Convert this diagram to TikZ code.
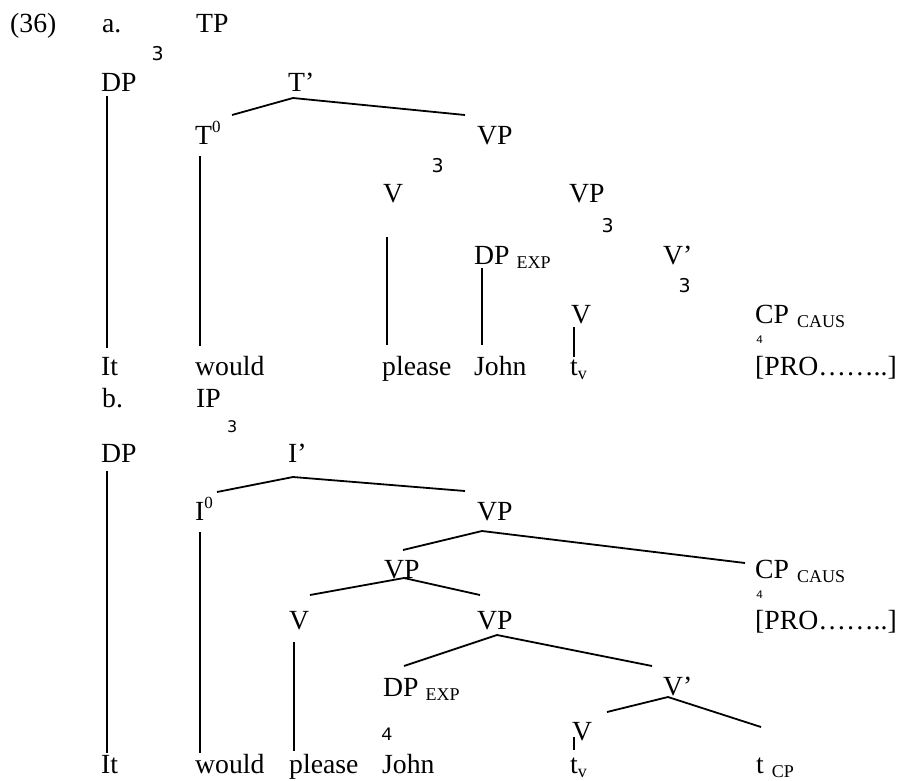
\documentclass[tikz,border=0pt]{standalone}
\usepackage{fontspec}
\setmainfont{Liberation Serif}
\newfontfamily\marksans{DejaVu Sans}
\newfontfamily\markmono{Liberation Mono}
\newcommand{\catsize}{\fontsize{27.7}{32}\selectfont}
\newcommand{\subsize}{\fontsize{18}{20}\selectfont}
\newcommand{\supsize}{\fontsize{17}{19}\selectfont}
\newcommand{\subtxt}[1]{\raisebox{-4pt}{\subsize #1}}
\newcommand{\suptxt}[1]{\raisebox{12pt}{\supsize #1}}

\begin{document}
\begin{tikzpicture}[x=1pt,y=-1pt,
  lab/.style={inner sep=0pt, anchor=base west, font=\catsize},
  tri/.style={inner sep=0pt, anchor=base west, font=\marksans\fontsize{19}{20}\selectfont},
  roof/.style={inner sep=0pt, anchor=base west, font=\markmono\fontsize{11.5}{13}\selectfont},
  branch/.style={line width=1.8pt}]
\useasboundingbox (0,0) rectangle (900,780);

% ---------- (36a) ----------
\node[lab] (ex)    at (10,32)  {(36)};
\node[lab] (la)    at (102,32) {a.};
\node[lab] (aTP)   at (196,32) {TP};
\node[tri] (aTPm)  at (151.5,60) {3};
\node[lab] (aDP)   at (101,91) {DP};
\node[lab] (aTb)   at (288,91) {T’};
\node[lab] (aT0)   at (195,144) {T\suptxt{0}};
\node[lab] (aVP1)  at (477,144) {VP};
\node[tri] (aVP1m) at (431.5,172) {3};
\node[lab] (aV)    at (383,202) {V};
\node[lab] (aVP2)  at (569,202) {VP};
\node[tri] (aVP2m) at (601.5,232) {3};
\node[lab] (aDPe)  at (474,264) {DP\hspace{7pt}\subtxt{EXP}};
\node[lab] (aVb)   at (663,264) {V’};
\node[tri] (aVbm)  at (678.5,292) {3};
\node[lab] (aVt)   at (571,323) {V};
\node[lab] (aCP)   at (755,323) {CP\hspace{8pt}\subtxt{CAUS}};
\node[roof] (aCPm) at (756,343) {4};
\node[lab] (aIt)   at (101,375) {It};
\node[lab] (aWould) at (195,375) {would};
\node[lab] (aPlease) at (382,375) {please};
\node[lab] (aJohn) at (474,375) {John};
\node[lab] (atv)   at (570,375) {t\subtxt{v}};
\node[lab] (aPRO)  at (755,375) {[PRO……..]};

% branches of T'
\coordinate (aTb-l) at (232,115);
\coordinate (aTb-top) at (293,98);
\coordinate (aTb-r) at (465,115);
\draw[branch] (aTb-l) -- (aTb-top) -- (aTb-r);
% unary lines
\coordinate (aDP-s) at (107,96);   \coordinate (aIt-n) at (107,348);
\coordinate (aT0-s) at (200,156);  \coordinate (aWould-n) at (200,346);
\coordinate (aV-s) at (387,237);   \coordinate (aPlease-n) at (387,345);
\coordinate (aDPe-s) at (482,268); \coordinate (aJohn-n) at (482,345);
\coordinate (aVt-s) at (574,327);  \coordinate (atv-n) at (574,357);
\draw[branch] (aDP-s) -- (aIt-n);
\draw[branch] (aT0-s) -- (aWould-n);
\draw[branch] (aV-s) -- (aPlease-n);
\draw[branch] (aDPe-s) -- (aJohn-n);
\draw[branch] (aVt-s) -- (atv-n);

% ---------- (36b) ----------
\node[lab] (lb)    at (102,407) {b.};
\node[lab] (bIP)   at (196,407) {IP};
\node[tri, font=\marksans\fontsize{16}{18}\selectfont] (bIPm) at (227,432) {3};
\node[lab] (bDP)   at (101,462) {DP};
\node[lab] (bIb)   at (288,462) {I’};
\node[lab] (bI0)   at (195,520) {I\suptxt{0}};
\node[lab] (bVP1)  at (477,520) {VP};
\node[lab] (bVP2)  at (384,578) {VP};
\node[lab] (bCP)   at (755,578) {CP\hspace{8pt}\subtxt{CAUS}};
\node[roof] (bCPm) at (756,598) {4};
\node[lab] (bV)    at (289,629) {V};
\node[lab] (bVP3)  at (477,629) {VP};
\node[lab] (bPRO)  at (755,629) {[PRO……..]};
\node[lab] (bDPe)  at (383,696) {DP\hspace{7pt}\subtxt{EXP}};
\node[lab] (bVb)   at (663,695) {V’};
\node[roof, font=\markmono\fontsize{19}{20}\selectfont] (bDPm) at (381,740) {4};
\node[lab] (bVt)   at (572,740) {V};
\node[lab] (bIt)   at (101,773) {It};
\node[lab] (bWould) at (195,773) {would};
\node[lab] (bPlease) at (289,773) {please};
\node[lab] (bJohn) at (382,773) {John};
\node[lab] (btv)   at (570,773) {t\subtxt{v}};
\node[lab] (btCP)  at (756,773) {t\hspace{8pt}\subtxt{CP}};

% binary branches
\coordinate (bIb-l) at (217,492);  \coordinate (bIb-top) at (293,477);  \coordinate (bIb-r) at (465,491);
\coordinate (bVP1-l) at (403,550); \coordinate (bVP1-top) at (482,531); \coordinate (bVP1-r) at (745,563);
\coordinate (bVP2-l) at (310,595); \coordinate (bVP2-top) at (404,578); \coordinate (bVP2-r) at (480,595);
\coordinate (bVP3-l) at (404,666); \coordinate (bVP3-top) at (497,635); \coordinate (bVP3-r) at (652,666);
\coordinate (bVb-l) at (607,712);  \coordinate (bVb-top) at (668,697);  \coordinate (bVb-r) at (761,727);
\draw[branch] (bIb-l) -- (bIb-top) -- (bIb-r);
\draw[branch] (bVP1-l) -- (bVP1-top) -- (bVP1-r);
\draw[branch] (bVP2-l) -- (bVP2-top) -- (bVP2-r);
\draw[branch] (bVP3-l) -- (bVP3-top) -- (bVP3-r);
\draw[branch] (bVb-l) -- (bVb-top) -- (bVb-r);
% unary lines
\coordinate (bDP-s) at (107,471);  \coordinate (bIt-n) at (107,753);
\coordinate (bI0-s) at (200,532);  \coordinate (bWould-n) at (200,753);
\coordinate (bV-s) at (294,642);   \coordinate (bPlease-n) at (294,751);
\coordinate (bVt-s) at (574,737);  \coordinate (btv-n) at (574,750);
\draw[branch] (bDP-s) -- (bIt-n);
\draw[branch] (bI0-s) -- (bWould-n);
\draw[branch] (bV-s) -- (bPlease-n);
\draw[branch] (bVt-s) -- (btv-n);
\end{tikzpicture}
\end{document}
